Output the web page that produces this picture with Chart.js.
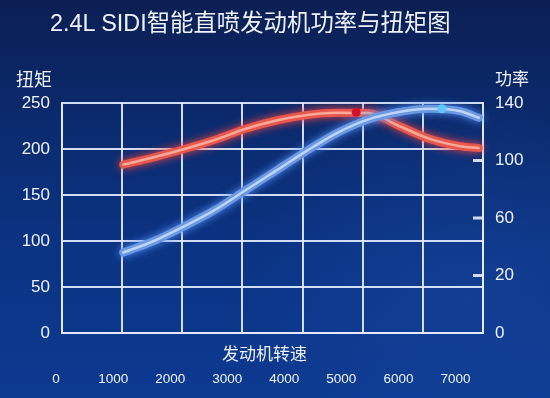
<!DOCTYPE html>
<html>
<head>
<meta charset="utf-8">
<script src="https://cdn.jsdelivr.net/npm/chart.js@4"></script>
<style>
  html, body { margin:0; padding:0; }
  body { width:550px; height:398px; overflow:hidden;
    background: radial-gradient(ellipse 60% 70% at 85% 75%, rgba(30,80,170,.35), rgba(30,80,170,0) 70%),
                linear-gradient(180deg, #0b1f53 0%, #0b2a6c 28%, #0b3383 62%, #0c3a91 100%); }
  #wrap { position:relative; width:550px; height:398px; }
  .txt { position:absolute; color:#eef3ff; font-family:'Liberation Sans','Noto Sans CJK SC',sans-serif; white-space:nowrap; line-height:1; }
</style>
</head>
<body>
<div id="wrap">
  <canvas id="chart" width="550" height="398"></canvas>
  <div class="txt" style="left:50px;top:12px;font-size:23.4px;">2.4L SIDI智能直喷发动机功率与扭矩图</div>
  <div class="txt" style="left:16px;top:71px;font-size:18px;">扭矩</div>
  <div class="txt" style="left:495px;top:71px;font-size:17px;">功率</div>
  <div class="txt" style="left:222px;top:346px;font-size:17px;">发动机转速</div>
</div>
<script>
// engine speed (rpm) where the curves were read
const rpm = [1000, 1500, 2000, 2500, 3000, 3500, 4000, 4500, 5000, 5500, 6000, 6500, 6800];
// torque, N·m (left axis)
const torqueNm = [183, 191, 200, 210, 222, 231, 237, 239.5, 239, 225, 211, 203, 201];
// power, kW (right axis)
const powerKw = [49, 56, 65, 75, 87, 99, 111, 122, 130, 134.5, 136.5, 135, 131];
// peak markers
const torquePeak = [{x: 4800, y: 240}];
const powerPeak = [{x: 6200, y: 136.5}];
// tick labels
const torqueTicks = [0, 50, 100, 150, 200, 250];
const powerTickLabels = ['140', '100', '60', '20', '0'];
const rpmTickLabels = [0, 1000, 2000, 3000, 4000, 5000, 6000, 7000];

const FONT = "'Liberation Sans','Noto Sans CJK SC',sans-serif";
const GRID = 'rgba(226,236,255,0.92)';
const toXY = (xs, ys) => xs.map((x, i) => ({x, y: ys[i]}));

// soft glow around the thick curves
const glowPlugin = {
    id: 'glow',
    beforeDatasetDraw(chart, args) {
        const ds = chart.data.datasets[args.index];
        if (!ds.glow) return;
        chart.ctx.save();
        chart.ctx.shadowColor = ds.glow;
        chart.ctx.shadowBlur = 9;
    },
    afterDatasetDraw(chart, args) {
        if (chart.data.datasets[args.index].glow) chart.ctx.restore();
    }
};

// short tick marks drawn inward on the right axis
const innerTicks = {
    id: 'innerTicks',
    afterDraw(chart) {
        const s = chart.scales.yPowLabels, ctx = chart.ctx;
        ctx.save();
        ctx.strokeStyle = GRID;
        ctx.lineWidth = 3;
        s.ticks.forEach((t, i) => {
            if (i === 0 || i === s.ticks.length - 1) return;
            const y = s.getPixelForTick(i);
            ctx.beginPath();
            ctx.moveTo(s.left - 10, y);
            ctx.lineTo(s.left, y);
            ctx.stroke();
        });
        ctx.restore();
    }
};

const lineBase = {pointRadius: 0, cubicInterpolationMode: 'monotone', borderCapStyle: 'round', borderJoinStyle: 'round', fill: false, clip: false, xAxisID: 'x'};

new Chart(document.getElementById('chart'), {
    type: 'line',
    data: {
        datasets: [
            {...lineBase, data: toXY(rpm, torqueNm), yAxisID: 'y', borderColor: '#e6574e', borderWidth: 8, glow: 'rgba(255,70,60,0.95)', order: 5},
            {...lineBase, data: toXY(rpm, torqueNm), yAxisID: 'y', borderColor: 'rgba(255,185,165,0.85)', borderWidth: 2.5, order: 4},
            {...lineBase, data: toXY(rpm, powerKw), yAxisID: 'yPow', borderColor: '#6b98e2', borderWidth: 8, glow: 'rgba(90,150,255,0.95)', order: 3},
            {...lineBase, data: toXY(rpm, powerKw), yAxisID: 'yPow', borderColor: 'rgba(205,225,255,0.85)', borderWidth: 2.5, order: 2},
            {type: 'scatter', data: torquePeak, xAxisID: 'x', yAxisID: 'y', pointRadius: 4.5, pointBackgroundColor: '#d4102c', pointBorderWidth: 0, order: 1},
            {type: 'scatter', data: powerPeak, xAxisID: 'x', yAxisID: 'yPow', pointRadius: 4.5, pointBackgroundColor: '#5cc8ff', pointBorderWidth: 0, order: 0}
        ]
    },
    options: {
        responsive: false,
        animation: false,
        devicePixelRatio: 1,
        layout: {padding: {top: 103, left: 0, right: 0, bottom: 0}},
        plugins: {legend: {display: false}, tooltip: {enabled: false}},
        scales: {
            x: {
                type: 'linear', position: 'bottom', min: 0, max: 6870, weight: 0,
                ticks: {display: false, stepSize: 1000},
                grid: {color: GRID, lineWidth: 2, drawTicks: false},
                border: {color: GRID, width: 2},
                afterFit: s => { s.height = 32; }
            },
            // the printed rpm labels sit on their own, slightly tighter spacing
            xRpm: {
                type: 'linear', position: 'bottom', min: 103, max: 7483, weight: 1,
                afterBuildTicks: s => { s.ticks = rpmTickLabels.map(v => ({value: v})); },
                ticks: {color: '#eef3ff', font: {family: FONT, size: 13.5}, padding: 6, maxRotation: 0, autoSkip: false, callback: v => String(v)},
                grid: {display: false, drawTicks: false},
                border: {display: false},
                afterFit: s => { s.height = 33; }
            },
            y: {
                type: 'linear', position: 'left', min: 0, max: 250,
                afterBuildTicks: s => { s.ticks = torqueTicks.map(v => ({value: v})); },
                ticks: {color: '#eef3ff', font: {family: FONT, size: 17}, padding: 12},
                grid: {color: GRID, lineWidth: 2, drawTicks: false},
                border: {color: GRID, width: 2},
                afterFit: s => { s.width = 62; }
            },
            yPow: {type: 'linear', position: 'right', min: 0, max: 140, display: false},
            yPowLabels: {
                type: 'category', position: 'right', labels: powerTickLabels,
                ticks: {color: '#eef3ff', font: {family: FONT, size: 17}, padding: 12, autoSkip: false},
                grid: {display: false, drawTicks: false},
                border: {color: GRID, width: 2},
                afterFit: s => { s.width = 67; }
            }
        }
    },
    plugins: [glowPlugin, innerTicks]
});
</script>
</body>
</html>
